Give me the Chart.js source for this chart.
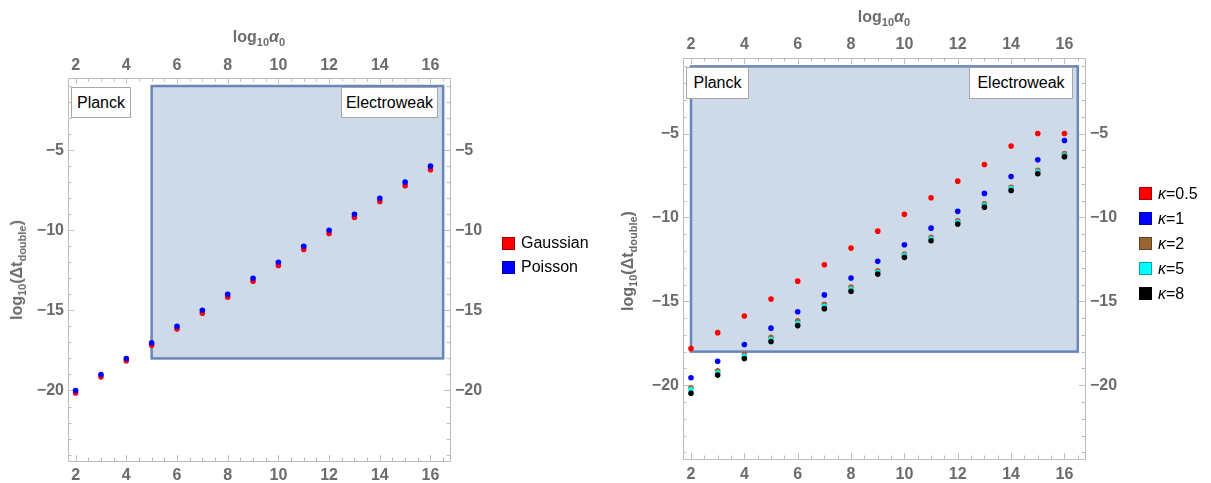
<!DOCTYPE html>
<html>
<head>
<meta charset="utf-8">
<script src="https://cdn.jsdelivr.net/npm/chart.js@4.4.1/dist/chart.umd.min.js"></script>
<style>
  body { margin: 0; background: #fff; width: 1211px; height: 483px; overflow: hidden; position: relative;
         font-family: "Liberation Sans", Arial, sans-serif; }
  canvas { position: absolute; top: 0; }
  .ttl { position: absolute; font-weight: bold; font-size: 16px; color: #6b6b6b; white-space: nowrap;
         transform: translate(-50%, -50%); }
  .ttl sub { font-size: 11px; vertical-align: -4px; line-height: 0; }
  .ytl { transform: translate(-50%, -50%) rotate(-90deg); }
  .tag { position: absolute; box-sizing: border-box; background: #fff; border: 1px solid #a6a6a6;
         font-size: 16px; color: #000; display: flex; align-items: center; justify-content: center; }
  .leg { position: absolute; font-size: 16px; color: #000; }
  .leg div { position: relative; height: 24px; line-height: 24px; padding-left: 19px; white-space: nowrap; }
  .leg span { position: absolute; left: 0; top: 6px; width: 11px; height: 11px; border: 1px solid rgba(0,0,0,0.35); }
</style>
</head>
<body>
<canvas id="left" width="600" height="483" style="left:0"></canvas>
<canvas id="right" width="611" height="483" style="left:600px"></canvas>

<div class="ttl" style="left:259px;top:37px">log<sub>10</sub><i>α</i><sub>0</sub></div>
<div class="ttl ytl" style="left:17px;top:270px">log<sub>10</sub>(Δt<sub>double</sub>)</div>
<div class="ttl" style="left:884px;top:17px">log<sub>10</sub><i>α</i><sub>0</sub></div>
<div class="ttl ytl" style="left:628px;top:261px">log<sub>10</sub>(Δt<sub>double</sub>)</div>

<div class="tag" style="left:71px;top:87px;width:60px;height:31px">Planck</div>
<div class="tag" style="left:341px;top:87px;width:97px;height:31px">Electroweak</div>
<div class="tag" style="left:686px;top:67px;width:63px;height:32px">Planck</div>
<div class="tag" style="left:969px;top:67px;width:104px;height:32px">Electroweak</div>

<div class="leg" style="left:502px;top:231px">
  <div><span style="background:#ff0000"></span>Gaussian</div>
  <div><span style="background:#0000ff"></span>Poisson</div>
</div>
<div class="leg" style="left:1139px;top:181px">
  <div style="height:25px;line-height:25px"><span style="background:#ff0000"></span><i>κ</i>=0.5</div>
  <div style="height:25px;line-height:25px"><span style="background:#0000ff"></span><i>κ</i>=1</div>
  <div style="height:25px;line-height:25px"><span style="background:#996633"></span><i>κ</i>=2</div>
  <div style="height:25px;line-height:25px"><span style="background:#00ffff"></span><i>κ</i>=5</div>
  <div style="height:25px;line-height:25px"><span style="background:#000000"></span><i>κ</i>=8</div>
</div>

<script>
// log10 alpha0 values shared by both panels
const alpha = [2, 3, 4, 5, 6, 7, 8, 9, 10, 11, 12, 13, 14, 15, 16];

// left panel
const gaussian = [-20.15, -19.15, -18.15, -17.17, -16.17, -15.18, -14.18, -13.18, -12.2, -11.2, -10.2, -9.2, -8.2, -7.22, -6.23];
const poisson = [-20, -19, -18, -17.03, -16, -15, -14, -13, -12, -11, -10, -9, -8, -7, -6];

// right panel, one array per kappa
const kappa05 = [-17.82, -16.87, -15.88, -14.87, -13.8, -12.82, -11.83, -10.82, -9.82, -8.83, -7.84, -6.85, -5.75, -5.0, -5.0];
const kappa1 = [-19.56, -18.57, -17.58, -16.6, -15.62, -14.62, -13.61, -12.62, -11.63, -10.64, -9.64, -8.57, -7.56, -6.57, -5.42];
const kappa2 = [-20.15, -19.14, -18.15, -17.15, -16.17, -15.18, -14.15, -13.18, -12.18, -11.19, -10.2, -9.19, -8.2, -7.2, -6.2];
const kappa5 = [-20.27, -19.27, -18.28, -17.28, -16.32, -15.32, -14.28, -13.28, -12.28, -11.29, -10.3, -9.29, -8.3, -7.3, -6.3];
const kappa8 = [-20.48, -19.4, -18.41, -17.4, -16.45, -15.44, -14.4, -13.38, -12.38, -11.39, -10.4, -9.39, -8.4, -7.4, -6.38];

// shaded regions [x0, x1, y0, y1]
const leftBox = [5, 16.5, -18, -1];
const rightBox = [2, 16.5, -18, -1];

const xTicks = [2, 4, 6, 8, 10, 12, 14, 16];
const yTicks = [-20, -15, -10, -5];
const xRange = [1.7, 16.77];
const yRange = [-24.4, -0.5];

const pts = (ys) => alpha.map((x, i) => ({ x, y: ys[i] }));
const minus = (v) => (v < 0 ? '\u2212' + Math.abs(v) : String(v));
const tickFont = { family: '"Liberation Sans", Arial, sans-serif', size: 16, weight: 'bold' };
const tickColor = '#6b6b6b';

// band + Mathematica style frame with inward ticks
const framePlugin = {
    id: 'frame',
    beforeDatasetsDraw(chart, args, opts) {
        const { ctx, chartArea: a, scales } = chart;
        const x = scales.x, y = scales.y;
        const b = opts.box;
        const bx0 = x.getPixelForValue(b[0]), bx1 = x.getPixelForValue(b[1]);
        const by0 = y.getPixelForValue(b[2]), by1 = y.getPixelForValue(b[3]);
        ctx.save();
        ctx.fillStyle = 'rgb(207,218,232)';
        ctx.fillRect(bx0, by1, bx1 - bx0, by0 - by1);
        ctx.strokeStyle = 'rgb(104,134,184)';
        ctx.lineWidth = 2.5;
        ctx.strokeRect(bx0, by1, bx1 - bx0, by0 - by1);

        ctx.strokeStyle = '#bdbdbd';
        ctx.lineWidth = 1;
        ctx.strokeRect(Math.round(a.left) + 0.5, Math.round(a.top) + 0.5,
            Math.round(a.right - a.left), Math.round(a.bottom - a.top));
        ctx.beginPath();
        for (let v = 2; v <= xRange[1]; v += 0.5) {
            const len = xTicks.includes(v) ? 6 : 3.5;
            const px = Math.round(x.getPixelForValue(v)) + 0.5;
            ctx.moveTo(px, a.top); ctx.lineTo(px, a.top + len);
            ctx.moveTo(px, a.bottom); ctx.lineTo(px, a.bottom - len);
        }
        for (let v = -24; v <= -1; v += 1) {
            const len = yTicks.includes(v) ? 6 : 3.5;
            const py = Math.round(y.getPixelForValue(v)) + 0.5;
            ctx.moveTo(a.left, py); ctx.lineTo(a.left + len, py);
            ctx.moveTo(a.right, py); ctx.lineTo(a.right - len, py);
        }
        ctx.stroke();
        ctx.restore();
    },
};

function axis(id, position, size, padding) {
    const horiz = position === 'top' || position === 'bottom';
    const values = horiz ? xTicks : yTicks;
    const range = horiz ? xRange : yRange;
    return {
        type: 'linear',
        axis: horiz ? 'x' : 'y',
        position,
        min: range[0],
        max: range[1],
        grid: { display: false, drawTicks: false },
        border: { display: false },
        ticks: { font: tickFont, color: tickColor, padding, callback: minus },
        afterBuildTicks: (s) => { s.ticks = values.map((v) => ({ value: v })); },
        afterFit: (s) => { if (horiz) s.height = size; else s.width = size; },
    };
}

function scatter(label, data, color, order) {
    return { label, data, order, backgroundColor: color, borderWidth: 0, pointRadius: 2.8, pointHoverRadius: 2.8 };
}

function makeChart(id, datasets, box, sizes, pads) {
    return new Chart(document.getElementById(id), {
        type: 'scatter',
        data: { datasets },
        options: {
            responsive: false,
            animation: false,
            events: [],
            layout: { padding: 0 },
            plugins: { legend: { display: false }, tooltip: { enabled: false }, frame: { box } },
            scales: {
                x: axis('x', 'bottom', sizes[0], pads[0]),
                x2: axis('x2', 'top', sizes[1], pads[1]),
                y: axis('y', 'left', sizes[2], pads[2]),
                y2: axis('y2', 'right', sizes[3], pads[3]),
            },
        },
        plugins: [framePlugin],
    });
}

makeChart('left', [
    scatter('Gaussian', pts(gaussian), '#ff0000', 2),
    scatter('Poisson', pts(poisson), '#0000ff', 1),
], leftBox, [22, 78, 68, 150], [5, 3, 4, 5]);

makeChart('right', [
    scatter('κ=0.5', pts(kappa05), '#ff0000', 5),
    scatter('κ=1', pts(kappa1), '#0000ff', 4),
    scatter('κ=2', pts(kappa2), '#996633', 3),
    scatter('κ=5', pts(kappa5), '#00ffff', 2),
    scatter('κ=8', pts(kappa8), '#000000', 1),
], rightBox, [24, 58, 83, 126], [6, 4, 4, 5]);
</script>
</body>
</html>
